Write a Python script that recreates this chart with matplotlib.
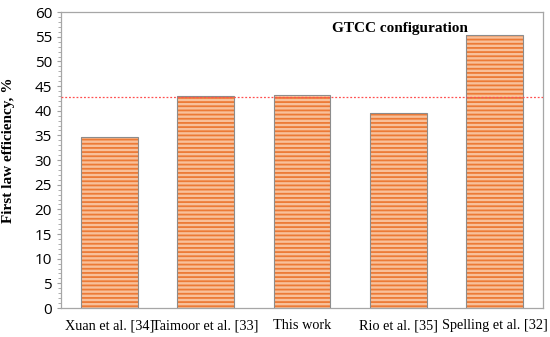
import matplotlib.pyplot as plt
from matplotlib.ticker import MultipleLocator

# Data
labels = ['Xuan et al. [34]', 'Taimoor et al. [33]', 'This work', 'Rio et al. [35]', 'Spelling et al. [32]']
efficiency = [34.6, 42.9, 43.1, 39.5, 55.3]
reference_line = 42.8

plt.rcParams['hatch.linewidth'] = 1.3

fig, ax = plt.subplots(figsize=(5.5, 3.37), dpi=100)

x = range(len(labels))
# striped fill: hatch colour follows edgecolor, so draw fill and outline separately
ax.bar(x, efficiency, width=0.59, color='#f8c09a', edgecolor='#ec7a36',
       linewidth=0, hatch='----', zorder=2)
ax.bar(x, efficiency, width=0.59, color='none', edgecolor='#8c8c8c',
       linewidth=0.8, zorder=3)

# dashed red line at the "This work" level
ax.axhline(reference_line, color='#ff5050', linestyle=(0, (1.5, 1.5)), linewidth=0.9, zorder=4)

ax.set_xlim(-0.5, len(labels) - 0.5)
ax.set_ylim(0, 60)
ax.yaxis.set_major_locator(MultipleLocator(5))
ax.yaxis.set_minor_locator(MultipleLocator(1))
ax.set_xticks(list(x))
ax.set_xticklabels(labels, family='Liberation Serif', fontsize=10.3)
ax.tick_params(axis='x', length=0, pad=8)
ax.tick_params(axis='y', which='major', length=3, color='#a0a0a0', labelsize=11)
ax.tick_params(axis='y', which='minor', length=2, color='#a0a0a0')
for lbl in ax.get_yticklabels():
    lbl.set_family('Open Sans')

for spine in ax.spines.values():
    spine.set_color('#a6a6a6')
    spine.set_linewidth(0.9)

ax.set_ylabel('First law efficiency, %', family='Liberation Serif', fontweight='bold', fontsize=11)
ax.yaxis.set_label_coords(-0.096, 0.534)
ax.text(0.703, 0.965, 'GTCC configuration', transform=ax.transAxes, ha='center', va='top',
        family='Liberation Serif', fontweight='bold', fontsize=11)

fig.subplots_adjust(left=0.111, right=0.987, top=0.964, bottom=0.086)
plt.savefig('out.png', dpi=100)
